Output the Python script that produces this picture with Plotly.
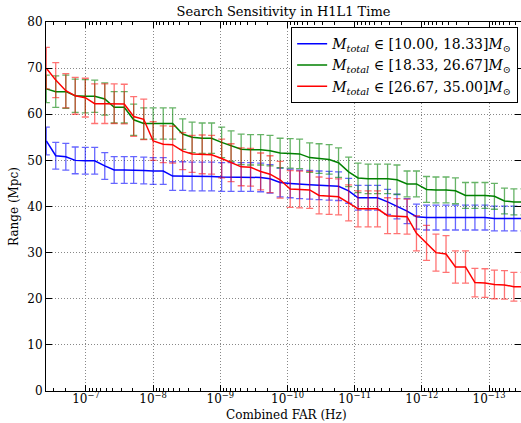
import plotly.graph_objects as go

# log10 of combined FAR (Hz) for each sample point
log_far = [-6.41, -6.55, -6.70, -6.84, -6.99, -7.13, -7.28, -7.42, -7.57, -7.71,
           -7.86, -8.00, -8.15, -8.29, -8.44, -8.58, -8.73, -8.87, -9.02, -9.16,
           -9.31, -9.45, -9.60, -9.74, -9.89, -10.04, -10.18, -10.33, -10.47, -10.62,
           -10.76, -10.91, -11.05, -11.20, -11.34, -11.49, -11.63, -11.78, -11.92, -12.07,
           -12.21, -12.36, -12.50, -12.65, -12.79, -12.94, -13.08, -13.23, -13.37, -13.52]
far = [10 ** v for v in log_far]

range_low = [54.2, 51.0, 50.8, 50.0, 49.9, 49.9, 48.8, 47.9, 47.9, 47.9,
             47.8, 47.7, 47.7, 46.6, 46.6, 46.5, 46.5, 46.5, 46.4, 46.4,
             46.4, 46.4, 46.3, 46.0, 45.2, 45.0, 44.8, 44.7, 44.6, 44.5,
             44.4, 43.4, 41.9, 41.9, 41.9, 41.0, 40.0, 39.0, 37.8, 37.6,
             37.6, 37.6, 37.6, 37.6, 37.6, 37.6, 37.4, 37.4, 37.4, 37.4]
err_low = [3.0, 2.9, 2.9, 2.9, 2.9, 2.9, 2.9, 2.9, 2.9, 2.9,
           2.9, 2.9, 2.9, 3.1, 3.1, 3.1, 3.1, 3.1, 3.1, 3.1,
           3.1, 3.1, 3.1, 3.1, 3.1, 3.1, 3.1, 3.1, 3.1, 3.1,
           3.1, 2.7, 2.7, 2.7, 2.7, 2.7, 2.7, 2.7, 2.7, 2.7,
           2.7, 2.7, 2.7, 2.7, 2.7, 2.7, 2.7, 2.7, 2.7, 2.7]

range_mid = [65.5, 64.9, 64.9, 64.0, 63.9, 63.9, 63.3, 61.5, 61.5, 58.8,
             58.0, 58.0, 58.0, 58.0, 55.7, 55.0, 54.8, 54.8, 53.9, 53.1,
             52.4, 52.3, 52.3, 52.1, 51.6, 51.5, 51.4, 50.6, 50.4, 50.2,
             49.5, 47.5, 46.2, 46.0, 46.0, 46.0, 45.8, 44.9, 44.9, 43.7,
             43.6, 43.6, 43.4, 42.4, 42.4, 42.4, 42.2, 41.2, 41.0, 41.0]
err_mid = [3.0, 3.4, 3.6, 3.6, 3.6, 3.5, 3.5, 3.4, 3.4, 3.4,
           3.4, 3.4, 3.4, 3.4, 3.3, 3.3, 3.3, 3.3, 3.3, 3.3,
           3.3, 3.3, 3.3, 3.3, 3.2, 3.2, 3.2, 3.2, 3.2, 3.2,
           3.2, 3.2, 3.2, 3.2, 3.2, 3.2, 3.2, 2.8, 2.8, 2.8,
           2.8, 2.8, 2.8, 2.8, 2.8, 2.8, 2.8, 2.8, 2.8, 2.8]

range_high = [70.0, 67.4, 65.1, 64.0, 63.6, 62.3, 62.3, 62.3, 62.2, 59.5,
              58.9, 54.2, 53.5, 53.4, 52.0, 51.4, 51.3, 51.2, 50.4, 49.5,
              48.6, 48.5, 47.6, 47.0, 45.8, 43.8, 43.7, 43.6, 42.4, 42.2,
              42.1, 40.8, 39.5, 39.5, 39.5, 38.0, 37.9, 37.8, 34.2, 32.1,
              30.0, 29.7, 26.9, 26.9, 23.5, 23.4, 23.1, 23.0, 22.6, 22.6]
err_high = [4.5, 3.8, 3.7, 4.0, 4.2, 4.3, 4.3, 4.3, 4.3, 4.3,
            4.4, 4.2, 4.0, 4.0, 4.0, 4.0, 4.2, 4.2, 4.2, 4.1,
            4.1, 4.1, 4.0, 4.0, 4.0, 4.0, 4.0, 4.0, 4.0, 3.9,
            3.9, 3.9, 3.9, 3.9, 3.9, 3.9, 3.8, 3.8, 3.8, 3.8,
            4.0, 4.0, 3.5, 3.5, 3.1, 3.1, 3.1, 3.1, 3.1, 3.1]

labels = ["<i>M</i><sub><i>total</i></sub> \u2208 [10.00, 18.33]<i>M</i><sub>\u2299</sub>",
          "<i>M</i><sub><i>total</i></sub> \u2208 [18.33, 26.67]<i>M</i><sub>\u2299</sub>",
          "<i>M</i><sub><i>total</i></sub> \u2208 [26.67, 35.00]<i>M</i><sub>\u2299</sub>"]
line_colors = ["rgb(0,0,255)", "rgb(0,128,0)", "rgb(255,0,0)"]
err_colors = ["rgba(0,0,255,0.6)", "rgba(0,128,0,0.6)", "rgba(255,0,0,0.55)"]

x_tick_exps = [-7, -8, -9, -10, -11, -12, -13]
y_ticks = [0, 10, 20, 30, 40, 50, 60, 70, 80]

FONT = "DejaVu Serif"

fig = go.Figure()
for vals, errs, lab, lc, ec in zip([range_low, range_mid, range_high],
                                   [err_low, err_mid, err_high],
                                   labels, line_colors, err_colors):
    fig.add_trace(go.Scatter(
        x=far, y=vals, mode="lines", name=lab,
        line=dict(color=lc, width=1.5),
        error_y=dict(type="data", array=errs, visible=True,
                     color=ec, thickness=1.3, width=3.5),
    ))

minor_vals = []
for e in range(-14, -5):
    for m in range(2, 10):
        minor_vals.append(m * 10 ** e)

fig.update_layout(
    width=521, height=423,
    margin=dict(l=46, r=0, t=22, b=32),
    paper_bgcolor="white", plot_bgcolor="white",
    font=dict(family=FONT, size=12, color="black"),
    title=dict(text="Search Sensitivity in H1L1 Time", x=0.5, xanchor="center",
               xref="paper",
               y=1 - 11 / 423, yanchor="middle", yref="container",
               font=dict(family=FONT, size=13)),
    showlegend=True,
    legend=dict(x=0.994, y=0.986, xanchor="right", yanchor="top",
                bgcolor="white", bordercolor="black", borderwidth=1,
                font=dict(family=FONT, size=14), itemwidth=30,
                tracegroupgap=0),
    xaxis=dict(
        type="log", range=[-6.405, -13.476],
        tickmode="array", tickvals=[10 ** e for e in x_tick_exps],
        ticktext=["10<sup>\u2212%d</sup>" % (-e) for e in x_tick_exps],
        ticks="inside", ticklen=6, tickcolor="black",
        ticklabelstandoff=-3,
        showline=True, linecolor="black", linewidth=1, mirror="allticks",
        showgrid=True, gridcolor="#888888", griddash="1px,2px", gridwidth=1,
        zeroline=False,
        minor=dict(tickmode="array", tickvals=minor_vals, ticks="inside",
                   ticklen=3, tickcolor="black", showgrid=False),
        tickfont=dict(family=FONT, size=12),
    ),
    yaxis=dict(
        range=[0, 80], tickmode="array", tickvals=y_ticks,
        ticks="inside", ticklen=6, tickcolor="black",
        showline=True, linecolor="black", linewidth=1, mirror="allticks",
        showgrid=True, gridcolor="#888888", griddash="1px,2px", gridwidth=1,
        zeroline=False,
        title=dict(text="Range (Mpc)", standoff=6,
                   font=dict(family=FONT, size=12)),
        tickfont=dict(family=FONT, size=12),
    ),
    annotations=[dict(text="Combined FAR (Hz)", xref="paper", yref="paper",
                      x=0.506, y=-24 / 369, xanchor="center", yanchor="middle",
                      showarrow=False, font=dict(family=FONT, size=12))],
)

fig.write_html("out.html")
